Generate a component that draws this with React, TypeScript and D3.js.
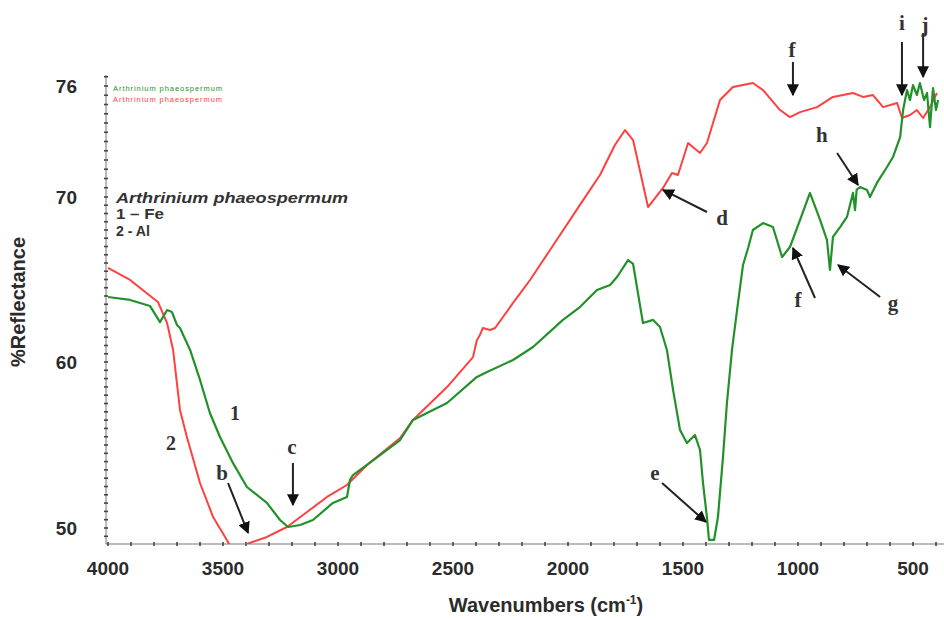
import React from 'react';
import * as d3 from 'd3';

// series 1 - Fe (green)
const feWavenumbers = [4000, 3904, 3817, 3774, 3743, 3722, 3700, 3687, 3643, 3600, 3557, 3513, 3457, 3396, 3309, 3252, 3217, 3165, 3109, 3022, 2961, 2948, 2935, 2874, 2730, 2674, 2526, 2396, 2352, 2239, 2152, 2022, 1948, 1874, 1817, 1787, 1739, 1717, 1674, 1630, 1600, 1570, 1543, 1513, 1483, 1448, 1426, 1413, 1396, 1387, 1365, 1348, 1326, 1309, 1287, 1265, 1239, 1217, 1196, 1152, 1109, 1069, 1035, 991, 948, 904, 874, 861, 848, 817, 787, 761, 752, 745, 730, 700, 687, 657, 613, 587, 556, 543, 526, 513, 500, 483, 470, 452, 439, 426, 413, 400, 391];
const feValues = [63.94, 63.76, 63.39, 62.42, 63.15, 63.03, 62.24, 62.06, 60.73, 58.92, 56.93, 55.48, 53.92, 52.47, 51.51, 50.48, 50.06, 50.18, 50.48, 51.51, 51.87, 52.89, 53.19, 53.8, 55.3, 56.51, 57.53, 59.1, 59.4, 60.12, 60.91, 62.55, 63.33, 64.36, 64.67, 65.15, 66.18, 65.94, 62.36, 62.55, 62.12, 60.73, 58.31, 55.9, 55.12, 55.6, 54.7, 52.71, 50.66, 49.28, 49.28, 50.66, 54.28, 57.53, 60.73, 63.15, 65.88, 66.91, 68.0, 68.42, 68.18, 66.36, 66.97, 68.61, 70.22, 68.61, 67.39, 65.58, 67.58, 68.18, 68.79, 70.22, 69.2, 70.4, 70.54, 70.38, 70.0, 70.76, 71.62, 72.16, 73.24, 74.7, 75.78, 75.24, 76.05, 75.51, 76.16, 75.24, 75.62, 73.78, 75.89, 74.7, 75.24];

// series 2 - Al (red)
const alWavenumbers = [4000, 3904, 3783, 3743, 3717, 3687, 3657, 3600, 3543, 3491, 3443, 3396, 3309, 3222, 3135, 3048, 2961, 2874, 2730, 2674, 2526, 2413, 2396, 2383, 2370, 2339, 2317, 2239, 2165, 2078, 1948, 1861, 1796, 1752, 1717, 1652, 1587, 1548, 1522, 1478, 1426, 1396, 1339, 1283, 1196, 1152, 1078, 1035, 991, 917, 848, 761, 717, 674, 630, 569, 548, 513, 483, 456, 426, 396];
const alValues = [65.7, 64.97, 63.64, 62.36, 60.73, 57.11, 55.48, 52.71, 50.66, 49.46, 48.3, 49.04, 49.46, 50.06, 50.96, 51.87, 52.59, 53.8, 55.42, 56.51, 58.49, 60.3, 61.33, 61.64, 62.06, 61.94, 62.06, 63.58, 64.97, 66.79, 69.52, 71.19, 72.81, 73.62, 73.08, 69.39, 70.49, 71.3, 71.19, 72.92, 72.38, 72.92, 75.24, 75.95, 76.16, 75.78, 74.7, 74.32, 74.59, 74.86, 75.41, 75.62, 75.41, 75.51, 74.86, 75.08, 74.27, 74.43, 74.7, 74.27, 74.86, 75.62];

const xTicks = [4000, 3500, 3000, 2500, 2000, 1500, 1000, 500];
const yTicks = [50, 60, 70, 76];

// peak labels: label position, arrow tail, arrow tip (wavenumber, %R)
const peakLabels = ['b', 'c', 'd', 'e', 'f', 'f', 'g', 'h', 'i', 'j'];
const peakLabelPos = [[3504, 53.31], [3200, 54.88], [1330, 68.73], [1622, 53.31], [1026, 77.95], [1000, 63.76], [587, 63.58], [896, 73.35], [548, 79.41], [448, 79.3]];
const peakArrowFrom = [[3478, 52.71], [3196, 53.92], [1396, 69.09], [1591, 52.71], [1022, 77.3], [926, 63.88], [643, 63.94], [830, 72.38], [548, 78.38], [456, 78.86]];
const peakArrowTo = [[3391, 49.7], [3196, 51.39], [1587, 70.38], [1400, 50.36], [1022, 75.51], [1022, 66.91], [826, 65.88], [739, 70.65], [548, 75.51], [456, 76.49]];

const curveLabels = ['1', '2'];
const curveLabelPos = [[3448, 56.93], [3726, 55.12]];

const legendNames = ['Arthrinium phaeospermum', 'Arthrinium phaeospermum'];
const seriesColors = ['#23912a', '#ff4040'];

const W = 944;
const H = 620;
const axisLeft = 106;
const axisBottom = 544;
const axisTop = 75;

const x = d3.scaleLinear().domain([4000, 500]).range([108, 913]);
const y = d3.scaleLinear().domain([50, 60, 70, 76]).range([528, 362, 197, 86]);

const App = () => {
  const line = d3
    .line<[number, number]>()
    .x((d) => x(d[0]))
    .y((d) => y(d[1]));

  const fe = feWavenumbers.map((w, i) => [w, feValues[i]] as [number, number]);
  const al = alWavenumbers.map((w, i) => [w, alValues[i]] as [number, number]);

  const yMinor = d3.range(49.5, 76.6, 0.5);
  const xMinor = d3.range(4000, 360, -100);
  const tickColor = '#444';
  const sans = 'Liberation Sans, Arial, sans-serif';
  const serif = 'Liberation Serif, Times New Roman, serif';

  return (
    <svg width={W} height={H} style={{ position: 'absolute', left: 0, top: 0, background: '#fff' }}>
      <defs>
        <clipPath id="plot">
          <rect x={axisLeft} y={0} width={W - axisLeft} height={axisBottom} />
        </clipPath>
        <marker id="head" viewBox="0 0 10 10" refX={9} refY={5} markerWidth={12} markerHeight={12} markerUnits="userSpaceOnUse" orient="auto">
          <path d="M0,0 L10,5 L0,10 Z" fill="#111" />
        </marker>
      </defs>

      {/* axes */}
      <line x1={axisLeft} x2={axisLeft} y1={axisTop} y2={axisBottom} stroke="#777" strokeWidth={1} />
      <line x1={axisLeft} x2={W} y1={axisBottom} y2={axisBottom} stroke="#777" strokeWidth={1.2} />
      {yMinor.map((v) => (
        <line key={'ym' + v} x1={axisLeft - 2} x2={axisLeft + 2} y1={y(v)} y2={y(v)} stroke={tickColor} strokeWidth={1.6} />
      ))}
      {xMinor.map((w) => (
        <line key={'xm' + w} x1={x(w)} x2={x(w)} y1={axisBottom - 2} y2={axisBottom + 2} stroke={tickColor} strokeWidth={1.6} />
      ))}
      {yTicks.map((t) => (
        <text key={'yt' + t} x={77} y={y(t)} dy="0.35em" textAnchor="end" fontFamily={sans} fontWeight="bold" fontSize={19} fill="#2b2b2b">
          {t}
        </text>
      ))}
      {xTicks.map((t) => (
        <text key={'xt' + t} x={x(t)} y={568} dy="0.35em" textAnchor="middle" fontFamily={sans} fontWeight="bold" fontSize={19} fill="#2b2b2b">
          {t}
        </text>
      ))}

      <text transform={`translate(25,302) rotate(-90)`} textAnchor="middle" fontFamily={sans} fontWeight="bold" fontSize={20} fill="#2b2b2b">
        %Reflectance
      </text>
      <text x={546} y={612} textAnchor="middle" fontFamily={sans} fontWeight="bold" fontSize={20} fill="#2b2b2b">
        Wavenumbers (cm<tspan dy={-8} fontSize={12}>-1</tspan><tspan dy={8}>)</tspan>
      </text>

      {/* tiny legend */}
      {legendNames.map((n, i) => (
        <text key={'lg' + i} x={113} y={91 + i * 11} fontFamily={sans} fontSize={7.5} textLength={109} fill={seriesColors[i]}>
          {n}
        </text>
      ))}

      {/* inset caption */}
      <text x={116} y={203} fontFamily={sans} fontWeight="bold" fontStyle="italic" fontSize={15} textLength={232} lengthAdjust="spacingAndGlyphs" fill="#333">
        Arthrinium phaeospermum
      </text>
      <text x={116} y={219} fontFamily={sans} fontWeight="bold" fontSize={14} textLength={48} lengthAdjust="spacingAndGlyphs" fill="#333">
        1 – Fe
      </text>
      <text x={116} y={236} fontFamily={sans} fontWeight="bold" fontSize={14} textLength={34} lengthAdjust="spacingAndGlyphs" fill="#333">
        2 - Al
      </text>

      {/* spectra */}
      <g clipPath="url(#plot)">
        <path d={line(al) || ''} fill="none" stroke={seriesColors[1]} strokeWidth={2} strokeLinejoin="round" />
        <path d={line(fe) || ''} fill="none" stroke={seriesColors[0]} strokeWidth={2.2} strokeLinejoin="round" />
      </g>

      {/* curve numbers */}
      {curveLabels.map((l, i) => (
        <text key={'cl' + i} x={x(curveLabelPos[i][0])} y={y(curveLabelPos[i][1])} dy="0.35em" textAnchor="middle" fontFamily={serif} fontWeight="bold" fontSize={20} fill="#333">
          {l}
        </text>
      ))}

      {/* peak arrows */}
      {peakLabels.map((l, i) => (
        <g key={'pk' + i}>
          <line
            x1={x(peakArrowFrom[i][0])}
            y1={y(peakArrowFrom[i][1])}
            x2={x(peakArrowTo[i][0])}
            y2={y(peakArrowTo[i][1])}
            stroke="#222"
            strokeWidth={2}
            markerEnd="url(#head)"
          />
          <text x={x(peakLabelPos[i][0])} y={y(peakLabelPos[i][1])} dy="0.35em" textAnchor="middle" fontFamily={serif} fontWeight="bold" fontSize={21} fill="#333">
            {l}
          </text>
        </g>
      ))}
    </svg>
  );
};

export default App;
